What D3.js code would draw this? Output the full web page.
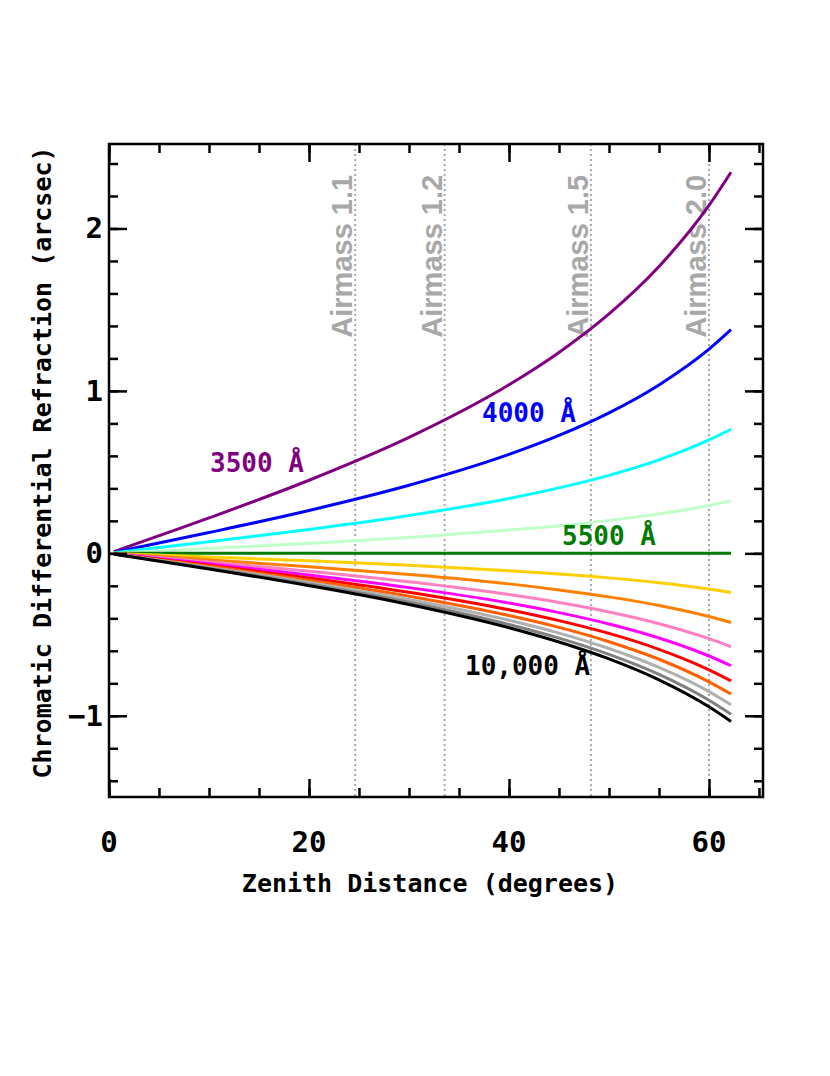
<!DOCTYPE html>
<html>
<head>
<meta charset="utf-8">
<script src="https://cdn.jsdelivr.net/npm/d3@7"></script>
<style>
  body { margin: 0; background: #fff; }
  text { font-family: "DejaVu Sans Mono", monospace; font-weight: bold; }
</style>
</head>
<body>
<script>
const width = 830;
const height = 1076;

const zenith = [0.5, 10, 20, 30, 40, 45, 50, 55, 60, 62.2];

// chromatic differential refraction (arcsec) relative to 5500 A
const cdr3500  = [0.011, 0.218, 0.450, 0.714, 1.038, 1.237, 1.474, 1.766, 2.142, 2.346];
const cdr4000  = [0.006, 0.128, 0.264, 0.419, 0.609, 0.726, 0.865, 1.037, 1.257, 1.377];
const cdr4500  = [0.004, 0.071, 0.147, 0.233, 0.338, 0.403, 0.480, 0.575, 0.698, 0.764];
const cdr5000  = [0.001, 0.030, 0.062, 0.098, 0.143, 0.170, 0.203, 0.243, 0.295, 0.323];
const cdr5500  = [0, 0, 0, 0, 0, 0, 0, 0, 0, 0];
const cdr6000  = [-0.001, -0.022, -0.046, -0.073, -0.107, -0.127, -0.151, -0.181, -0.220, -0.241];
const cdr6500  = [-0.002, -0.040, -0.082, -0.130, -0.188, -0.225, -0.268, -0.321, -0.389, -0.426];
const cdr7000  = [-0.003, -0.053, -0.110, -0.175, -0.254, -0.303, -0.361, -0.433, -0.525, -0.575];
const cdr7500  = [-0.003, -0.064, -0.133, -0.211, -0.306, -0.365, -0.435, -0.521, -0.632, -0.692];
const cdr8000  = [-0.004, -0.073, -0.151, -0.239, -0.347, -0.414, -0.493, -0.591, -0.717, -0.785];
const cdr8500  = [-0.004, -0.080, -0.166, -0.264, -0.383, -0.456, -0.544, -0.652, -0.791, -0.866];
const cdr9000  = [-0.004, -0.087, -0.179, -0.284, -0.412, -0.491, -0.586, -0.702, -0.851, -0.932];
const cdr9500  = [-0.005, -0.092, -0.190, -0.301, -0.438, -0.522, -0.622, -0.745, -0.904, -0.990];
const cdr10000 = [-0.005, -0.096, -0.199, -0.315, -0.458, -0.546, -0.650, -0.779, -0.945, -1.035];

const series = [cdr3500, cdr4000, cdr4500, cdr5000, cdr5500, cdr6000, cdr6500,
                cdr7000, cdr7500, cdr8000, cdr8500, cdr9000, cdr9500, cdr10000];
const colors = ["#800080", "#0000ff", "#00ffff", "#c0ffc8", "#007a00", "#ffd000", "#ff8000",
                "#ff80c0", "#ff00ff", "#ff0000", "#ff6000", "#b0b0b0", "#808080", "#000000"];

// airmass markers
const airmass = [1.1, 1.2, 1.5, 2.0];
const airmassZenith = [24.62, 33.56, 48.19, 60.0];

// curve labels
const labelText = ["3500 Å", "4000 Å", "5500 Å", "10,000 Å"];
const labelZ = [10.1, 37.3, 45.3, 35.6];
const labelY = [0.50, 0.81, 0.05, -0.75];
const labelColor = ["#800080", "#0000ff", "#007a00", "#000000"];

const xTicks = [0, 20, 40, 60];
const yTicks = [-1, 0, 1, 2];

const plotL = 109, plotR = 763, plotT = 144, plotB = 797;

const x = d3.scaleLinear().domain([0, 65.4]).range([plotL, plotR]);
const y = d3.scaleLinear().domain([-1.5, 2.52]).range([plotB, plotT]);

let svg = d3.select("body").append("svg")
    .attr("width", width)
    .attr("height", height);

// airmass lines + labels
svg.selectAll("line.am")
    .data(airmassZenith)
    .join("line")
    .attr("class", "am")
    .attr("x1", d => x(d)).attr("x2", d => x(d))
    .attr("y1", plotT).attr("y2", plotB)
    .attr("stroke", "#a8a8a8")
    .attr("stroke-width", 2)
    .attr("stroke-dasharray", "2,3");

svg.selectAll("text.am")
    .data(airmassZenith)
    .join("text")
    .attr("class", "am")
    .attr("transform", d => `translate(${x(d) - 3},${y(2.33)}) rotate(-90)`)
    .attr("text-anchor", "end")
    .style("font-family", "'Liberation Sans', Arial, sans-serif")
    .style("font-size", "29px")
    .attr("fill", "#a8a8a8")
    .text((d, i) => "Airmass " + airmass[i].toFixed(1));

// curves
const line = d3.line()
    .x((d, i) => x(zenith[i]))
    .y(d => y(d))
    .curve(d3.curveMonotoneX);

svg.selectAll("path.cdr")
    .data(series)
    .join("path")
    .attr("class", "cdr")
    .attr("d", line)
    .attr("fill", "none")
    .attr("stroke", (d, i) => colors[i])
    .attr("stroke-width", 3);

// curve labels
svg.selectAll("text.lab")
    .data(labelText)
    .join("text")
    .attr("class", "lab")
    .attr("x", (d, i) => x(labelZ[i]))
    .attr("y", (d, i) => y(labelY[i]))
    .attr("fill", (d, i) => labelColor[i])
    .style("font-size", "26px")
    .text(d => d);

// axes: ticks inward on all four sides
const xMinor = d3.range(0, 66, 5);
const yMinor = d3.range(-1.4, 2.51, 0.2);

function addAxis(axis, transform) {
    const g = svg.append("g").attr("transform", transform).call(axis);
    g.select(".domain").remove();
    g.selectAll("line").attr("stroke", "#000").attr("stroke-width", 2.5);
    return g;
}

// bottom
addAxis(d3.axisTop(x).tickValues(xMinor).tickSize(9).tickFormat(""), `translate(0,${plotB})`);
addAxis(d3.axisTop(x).tickValues(xTicks).tickSize(18).tickFormat(""), `translate(0,${plotB})`);
// top
addAxis(d3.axisBottom(x).tickValues(xMinor).tickSize(9).tickFormat(""), `translate(0,${plotT})`);
addAxis(d3.axisBottom(x).tickValues(xTicks).tickSize(18).tickFormat(""), `translate(0,${plotT})`);
// left
addAxis(d3.axisRight(y).tickValues(yMinor).tickSize(9).tickFormat(""), `translate(${plotL},0)`);
addAxis(d3.axisRight(y).tickValues(yTicks).tickSize(18).tickFormat(""), `translate(${plotL},0)`);
// right
addAxis(d3.axisLeft(y).tickValues(yMinor).tickSize(9).tickFormat(""), `translate(${plotR},0)`);
addAxis(d3.axisLeft(y).tickValues(yTicks).tickSize(18).tickFormat(""), `translate(${plotR},0)`);

// frame
svg.append("rect")
    .attr("x", plotL).attr("y", plotT)
    .attr("width", plotR - plotL).attr("height", plotB - plotT)
    .attr("fill", "none")
    .attr("stroke", "#000")
    .attr("stroke-width", 2.5);

// tick labels
svg.selectAll("text.xt")
    .data(xTicks)
    .join("text")
    .attr("class", "xt")
    .attr("x", d => x(d))
    .attr("y", 852)
    .attr("text-anchor", "middle")
    .style("font-size", "29px")
    .text(d => d);

svg.selectAll("text.yt")
    .data(yTicks)
    .join("text")
    .attr("class", "yt")
    .attr("x", 103)
    .attr("y", d => y(d) + 10)
    .attr("text-anchor", "end")
    .style("font-size", "29px")
    .text(d => d < 0 ? "\u2212" + Math.abs(d) : d);

// axis titles
svg.append("text")
    .attr("x", (plotL + plotR) / 2 - 6)
    .attr("y", 892)
    .attr("text-anchor", "middle")
    .style("font-size", "25px")
    .text("Zenith Distance (degrees)");

svg.append("text")
    .attr("transform", `translate(51,${(plotT + plotB) / 2 - 8}) rotate(-90)`)
    .attr("text-anchor", "middle")
    .style("font-size", "25px")
    .text("Chromatic Differential Refraction (arcsec)");
</script>
</body>
</html>
